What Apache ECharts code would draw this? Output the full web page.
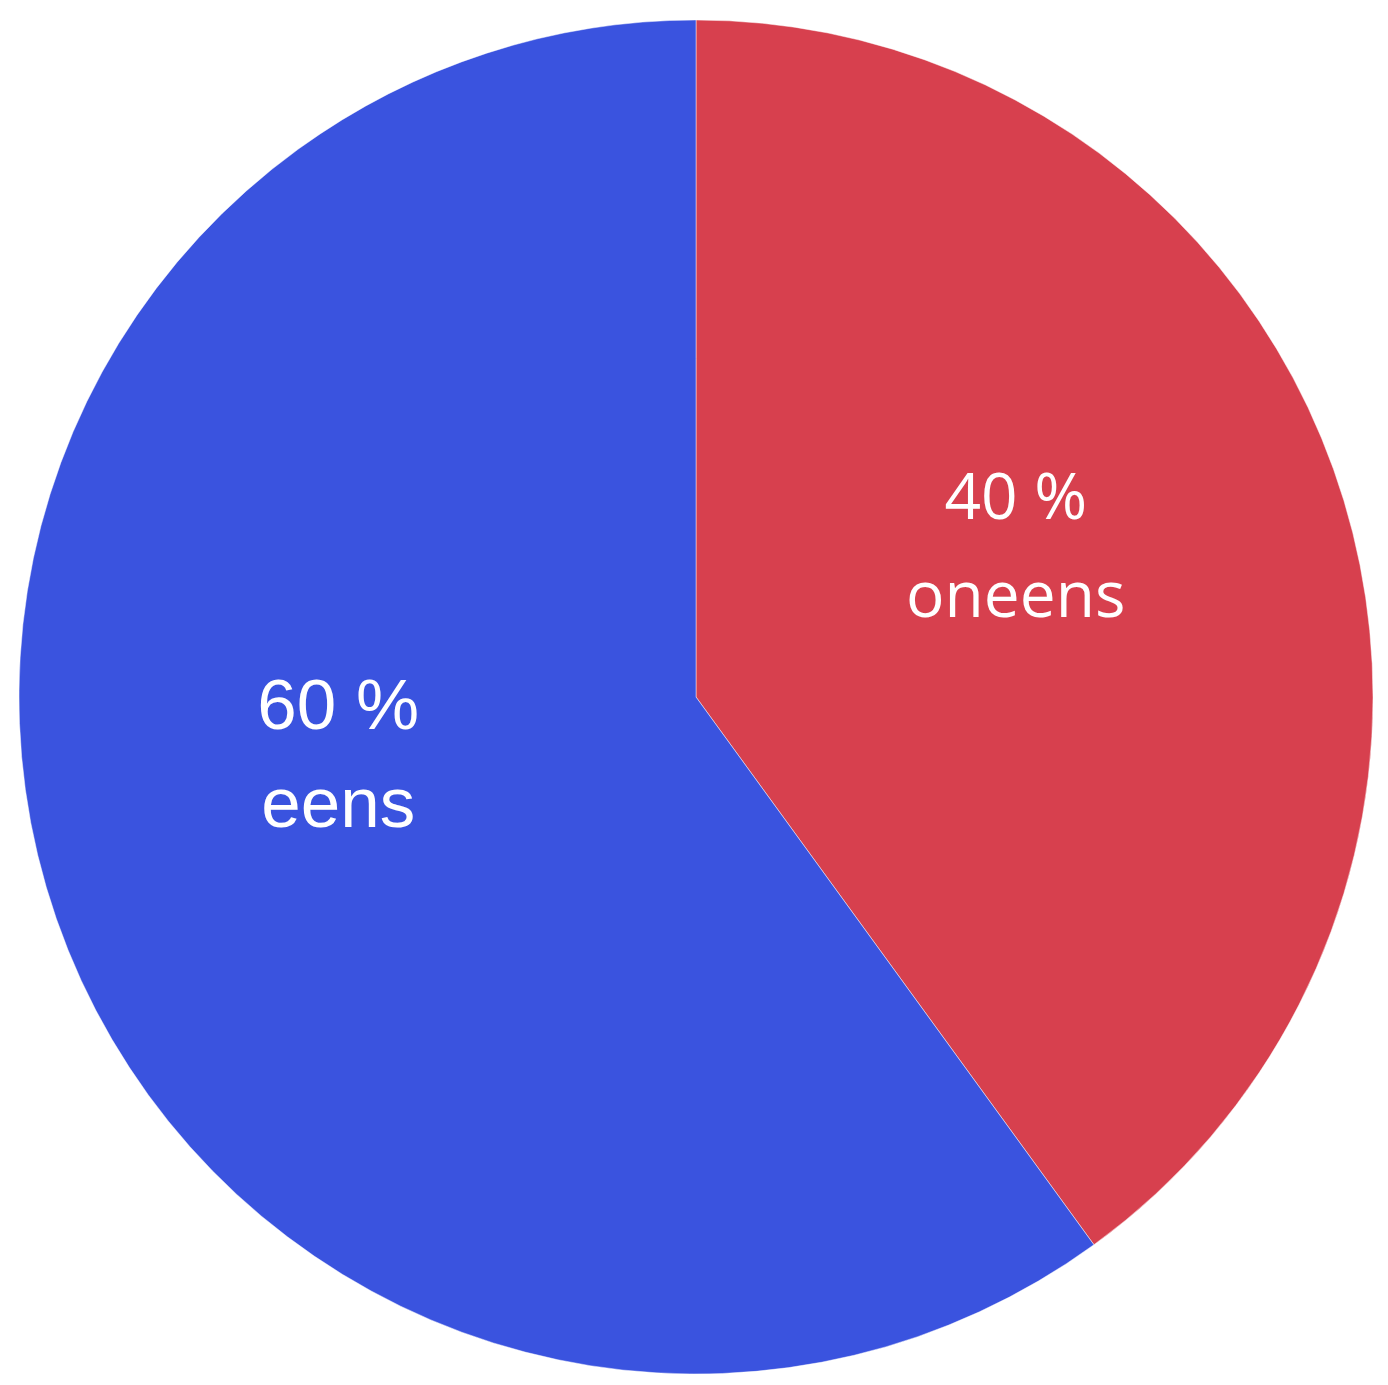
<!DOCTYPE html>
<html>
<head>
<meta charset="utf-8">
<script src="https://cdn.jsdelivr.net/npm/echarts@6/dist/echarts.min.js"></script>
<style>
html,body{margin:0;padding:0;background:#fff;}
#chart{width:1388px;height:1385px;}
</style>
</head>
<body>
<div id="chart"></div>
<script>
const categories = ['oneens', 'eens'];
const values = [40, 60];
const labels = ['40 %\noneens', '60 %\neens'];

const colors = ['#D7404E', '#3A53DF'];
const labelStyles = [
  { fontFamily: 'Open Sans', fontSize: 64, lineHeight: 98, offset: [-5, -42] },
  { fontFamily: 'Liberation Sans', fontSize: 71, lineHeight: 98, offset: [-33, -44] }
];

const chart = echarts.init(document.getElementById('chart'), null, { renderer: 'canvas' });
chart.setOption({
  backgroundColor: '#ffffff',
  animation: false,
  series: [{
    type: 'pie',
    center: [696, 697],
    radius: 677,
    startAngle: 90,
    clockwise: true,
    silent: true,
    labelLine: { show: false },
    itemStyle: { borderColor: 'rgba(255,255,255,0.45)', borderWidth: 1 },
    data: categories.map((c, i) => ({
      name: c,
      value: values[i],
      itemStyle: { color: colors[i] },
      label: {
        show: true,
        position: 'inside',
        formatter: labels[i],
        color: '#ffffff',
        align: 'center',
        fontFamily: labelStyles[i].fontFamily,
        fontSize: labelStyles[i].fontSize,
        lineHeight: labelStyles[i].lineHeight,
        offset: labelStyles[i].offset
      }
    }))
  }]
});
</script>
</body>
</html>
